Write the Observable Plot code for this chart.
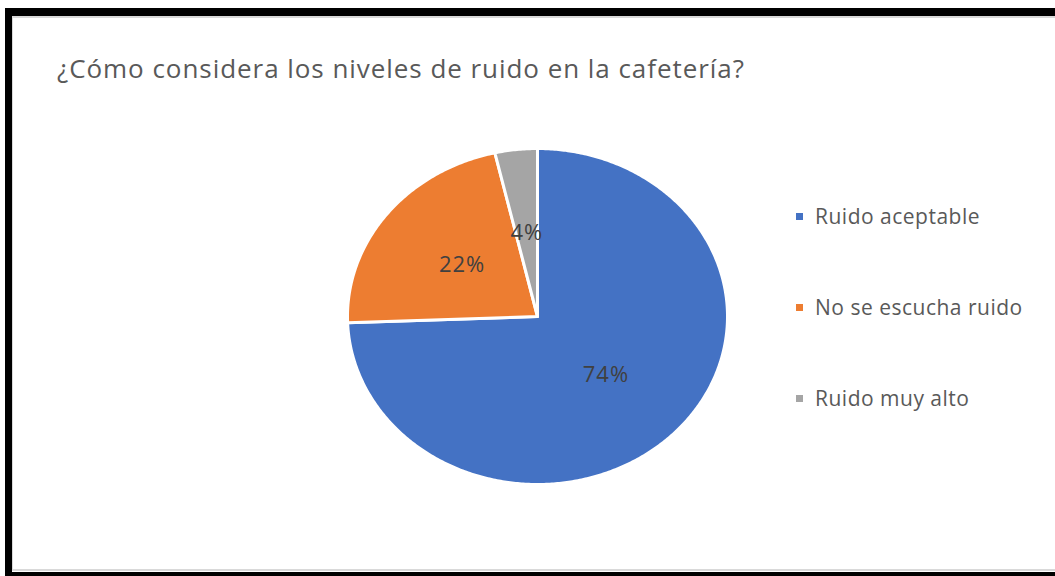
<!DOCTYPE html>
<html>
<head>
<meta charset="utf-8">
<script src="https://cdn.jsdelivr.net/npm/d3@7"></script>
<script src="https://cdn.jsdelivr.net/npm/@observablehq/plot@0.6"></script>
<style>
  html, body { margin: 0; padding: 0; background: #fff; overflow: hidden; }
  #page { position: relative; width: 1055px; height: 576px; overflow: hidden; font-family: "Open Sans", sans-serif; }
  #frame { position: absolute; left: 5px; top: 8px; width: 1060px; height: 556px;
    border-left: 7px solid #000; border-top: 8px solid #000; border-bottom: 4px solid #000; }
  #inner { position: absolute; left: 12px; top: 16px; width: 1060px; height: 555px; border-left: 1px solid #d9d9d9; border-top: 2px solid #d9d9d9; border-bottom: 2px solid #d9d9d9; box-sizing: border-box; }
  #title { position: absolute; left: 57px; top: 52px; font-size: 26px; letter-spacing: 0.95px; color: #595959; white-space: nowrap; line-height: 32px; }
  #chart { position: absolute; left: 341px; top: 142px; }
  #chart text { letter-spacing: 1px; }
  #legend { position: absolute; left: 796px; top: 0; }
  .item { position: absolute; left: 0; white-space: nowrap; font-size: 21px; letter-spacing: 0.5px; color: #595959; display: flex; align-items: center; height: 30px; }
  .sw { width: 7px; height: 7px; margin-right: 12px; display: inline-block; }
</style>
</head>
<body>
<div id="page">
  <div id="frame"></div>
  <div id="inner"></div>
  <div id="title"></div>
  <div id="chart"></div>
  <div id="legend"></div>
</div>
<script>
const title = "¿Cómo considera los niveles de ruido en la cafetería?";
const categories = ["Ruido aceptable", "No se escucha ruido", "Ruido muy alto"];
const values = [74.4, 22.0, 3.6];
const colors = ["#4472C4", "#ED7D31", "#A5A5A5"];

document.getElementById("title").textContent = title;

const total = d3.sum(values);
const labels = values.map(v => Math.round(100 * v / total) + "%");

// pie geometry (clockwise from 12 o'clock), built from the values
const arcs = d3.pie().sort(null).value(d => d)(values);
const points = [];
arcs.forEach((a, i) => {
  points.push({cat: categories[i], x: 0, y: 0});
  const n = Math.max(2, Math.ceil((a.endAngle - a.startAngle) / 0.01));
  for (let k = 0; k <= n; k++) {
    const t = a.startAngle + (a.endAngle - a.startAngle) * k / n;
    points.push({cat: categories[i], x: Math.sin(t), y: Math.cos(t)});
  }
});
const labelData = arcs.map((a, i) => {
  const m = (a.startAngle + a.endAngle) / 2;
  return {text: labels[i], x: 0.5 * Math.sin(m), y: 0.5 * Math.cos(m)};
});

const chart = Plot.plot({
  width: 392,
  height: 348,
  margin: 6,
  x: {domain: [-1, 1], axis: null},
  y: {domain: [-1, 1], axis: null},
  color: {domain: categories, range: colors},
  style: {fontFamily: "Open Sans, sans-serif", background: "transparent"},
  marks: [
    Plot.line(points, {x: "x", y: "y", z: "cat", fill: "cat", stroke: "white", strokeWidth: 3, curve: "linear-closed"}),
    Plot.text(labelData, {x: "x", y: "y", text: "text", fill: "#404040", fontSize: 22})
  ]
});
document.getElementById("chart").appendChild(chart);

const legend = document.getElementById("legend");
const legendTops = [201, 292, 383];
categories.forEach((c, i) => {
  const it = document.createElement("div");
  it.className = "item";
  it.style.top = legendTops[i] + "px";
  const sw = document.createElement("span");
  sw.className = "sw";
  sw.style.background = colors[i];
  it.appendChild(sw);
  it.appendChild(document.createTextNode(c));
  legend.appendChild(it);
});
</script>
</body>
</html>
